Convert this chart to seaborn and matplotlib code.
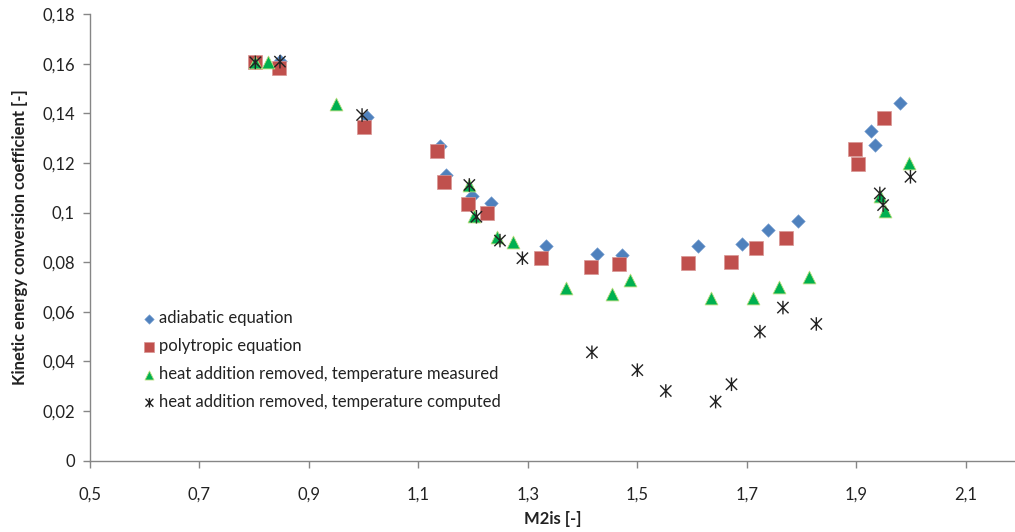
import numpy as np
import pandas as pd
import matplotlib
matplotlib.use("Agg")
import matplotlib.pyplot as plt
from matplotlib.path import Path
from matplotlib.ticker import FuncFormatter, MultipleLocator
import seaborn as sns

# ---- data ----
adiabatic_x = [0.847, 1.006, 1.139, 1.150, 1.197, 1.232, 1.334, 1.427, 1.472,
               1.611, 1.691, 1.738, 1.794, 1.926, 1.934, 1.979]
adiabatic_y = [0.1612, 0.1384, 0.1268, 0.1151, 0.1068, 0.1038, 0.0866, 0.0833, 0.0828,
               0.0865, 0.0872, 0.0930, 0.0966, 0.1329, 0.1271, 0.1443]

polytropic_x = [0.802, 0.845, 1.000, 1.134, 1.146, 1.191, 1.226, 1.324, 1.416, 1.466,
                1.593, 1.671, 1.716, 1.771, 1.897, 1.903, 1.951]
polytropic_y = [0.1605, 0.1584, 0.1346, 0.1247, 0.1122, 0.1033, 0.0999, 0.0816, 0.0782, 0.0793,
                0.0795, 0.0799, 0.0858, 0.0896, 0.1257, 0.1196, 0.1382]

measured_x = [0.802, 0.826, 0.950, 1.193, 1.201, 1.243, 1.273, 1.369, 1.454, 1.487,
              1.635, 1.712, 1.759, 1.813, 1.943, 1.952, 1.996]
measured_y = [0.1605, 0.1608, 0.1436, 0.1111, 0.0986, 0.0900, 0.0880, 0.0695, 0.0672, 0.0728,
              0.0654, 0.0654, 0.0699, 0.0739, 0.1067, 0.1006, 0.1198]

computed_x = [0.802, 0.847, 0.997, 1.193, 1.206, 1.249, 1.290, 1.417, 1.500, 1.552,
              1.643, 1.672, 1.724, 1.766, 1.827, 1.943, 1.949, 1.999]
computed_y = [0.1605, 0.1608, 0.1393, 0.1111, 0.0983, 0.0887, 0.0816, 0.0437, 0.0365, 0.0281,
              0.0238, 0.0308, 0.0520, 0.0617, 0.0551, 0.1077, 0.1030, 0.1144]

labels = ["adiabatic equation", "polytropic equation",
          "heat addition removed, temperature measured",
          "heat addition removed, temperature computed"]

sns.set_theme(style="white")
plt.rcParams["font.family"] = ["Lato", "DejaVu Sans"]

fig = plt.figure(figsize=(10.15, 5.32), dpi=100)
ax = fig.add_axes([0.0887, 0.134, 0.9113, 0.8397])

# Excel-like star marker: X with vertical line
d = 0.5
star = Path([(-d, -d), (d, d), (-d, d), (d, -d), (0, -0.6), (0, 0.6)],
            [Path.MOVETO, Path.LINETO, Path.MOVETO, Path.LINETO, Path.MOVETO, Path.LINETO])

sns.scatterplot(x=adiabatic_x, y=adiabatic_y, marker="D", s=48, color="#4F81BD",
                edgecolor="#7EA3D3", linewidth=0.4, label=labels[0], ax=ax, zorder=3)
sns.scatterplot(x=polytropic_x, y=polytropic_y, marker="s", s=95, color="#C0504D",
                edgecolor="#D99694", linewidth=0.5, label=labels[1], ax=ax, zorder=4)
sns.scatterplot(x=measured_x, y=measured_y, marker="^", s=85, color="#00B050",
                edgecolor="#B5DC7A", linewidth=0.6, label=labels[2], ax=ax, zorder=5)
ax.scatter(computed_x, computed_y, marker=star, s=95, facecolor="none",
           edgecolor="#222222", linewidth=1.0, label=labels[3], zorder=6)

ax.set_xlim(0.5, 2.19)
ax.set_ylim(0, 0.18)
ax.yaxis.set_major_locator(MultipleLocator(0.02))
ax.set_xticks(np.arange(0.5, 2.15, 0.2))

def fmt(v, pos):
    s = ("%.2f" % v).rstrip("0").rstrip(".")
    return s.replace(".", ",")

ax.xaxis.set_major_formatter(FuncFormatter(fmt))
ax.yaxis.set_major_formatter(FuncFormatter(fmt))

for side in ["top", "right"]:
    ax.spines[side].set_visible(False)
for side in ["left", "bottom"]:
    ax.spines[side].set_color("#868686")
    ax.spines[side].set_linewidth(1.0)

ax.tick_params(axis="both", which="major", direction="out", length=5, width=1,
               color="#868686", labelsize=12, labelcolor="#222222", pad=6,
               bottom=True, left=True)
ax.tick_params(axis="x", pad=14)

ax.set_xlabel("M2is [-]", fontsize=12, fontweight="bold", color="#222222", labelpad=6)
ax.set_ylabel("Kinetic energy conversion coefficient [-]", fontsize=12,
              fontweight="bold", color="#222222", labelpad=10)

leg = ax.legend(loc="upper left", bbox_to_anchor=(0.048, 0.352), frameon=False,
                fontsize=12, handletextpad=0.1, labelspacing=0.72,
                handlelength=1.0, markerscale=0.7, borderaxespad=0)
for t in leg.get_texts():
    t.set_color("#222222")

fig.savefig("out.png", dpi=100)
